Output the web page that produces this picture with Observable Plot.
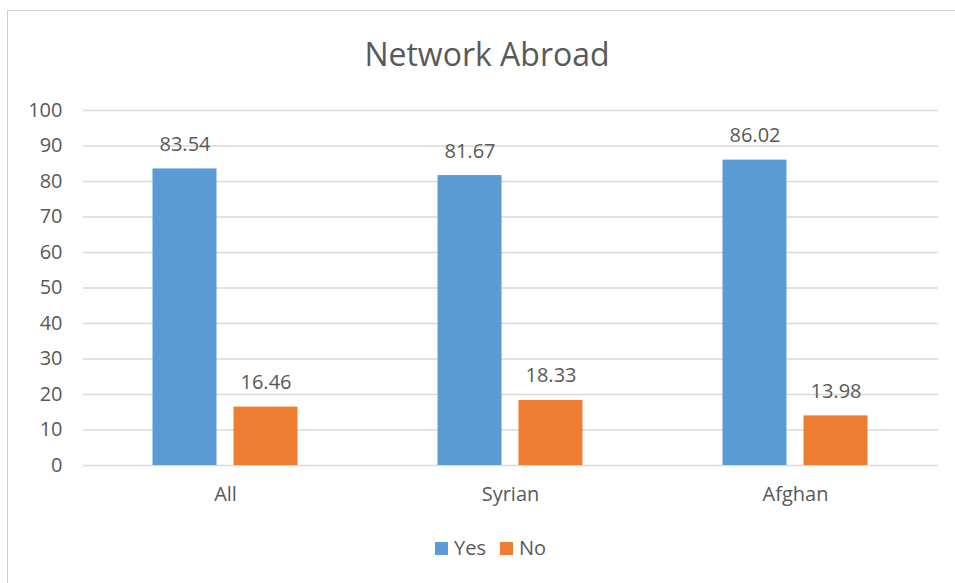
<!DOCTYPE html>
<html>
<head>
<meta charset="utf-8">
<script src="https://cdn.jsdelivr.net/npm/d3@7"></script>
<script src="https://cdn.jsdelivr.net/npm/@observablehq/plot@0.6"></script>
<style>
  html, body { margin: 0; padding: 0; background: #fff; }
  #wrap { position: relative; width: 955px; height: 583px; overflow: hidden; font-family: "Open Sans", "Noto Sans", sans-serif; color: #595959; }
  #border { position: absolute; left: 7px; top: 10px; width: 1000px; height: 1000px; border-left: 1px solid #d0d0d0; border-top: 1px solid #d0d0d0; }
  #title { position: relative; height: 95px; }
  #title span { position: absolute; left: 487px; top: 32px; transform: translateX(-50%); font-size: 32px; white-space: nowrap; color: #595959; }
  #chart svg { display: block; }
  #legend { position: relative; height: 60px; }
  .sw { position: absolute; width: 13px; height: 13px; top: 27px; }
  .lt { position: absolute; top: 20px; font-size: 20px; line-height: 26px; color: #595959; }
</style>
</head>
<body>
<div id="wrap">
  <div id="border"></div>
  <div id="title"><span>Network Abroad</span></div>
  <div id="chart"></div>
  <div id="legend"></div>
</div>
<script>
const categories = ["All", "Syrian", "Afghan"];
const yesValues = [83.54, 81.67, 86.02];
const noValues = [16.46, 18.33, 13.98];
const yTicks = [0, 10, 20, 30, 40, 50, 60, 70, 80, 90, 100];
const seriesNames = ["Yes", "No"];
const seriesColors = ["#5B9BD5", "#ED7D31"];

const data = categories.map((c, i) => ({category: c, yes: yesValues[i], no: noValues[i]}));
const fmt = d3.format(".2f");

const plot = Plot.plot({
  width: 955,
  height: 420,
  marginTop: 15,
  marginBottom: 50,
  marginLeft: 83,
  marginRight: 17,
  style: {fontFamily: "'Open Sans', 'Noto Sans', sans-serif", fontSize: "20px", color: "#595959", background: "transparent"},
  x: {domain: categories, paddingInner: 0.775, paddingOuter: 0.3875, label: null},
  y: {domain: [0, 100], label: null},
  marks: [
    Plot.ruleY(yTicks, {stroke: "#d9d9d9", strokeWidth: 1.3}),
    Plot.barY(data, {x: "category", y: "yes", dx: -40.5, fill: seriesColors[0]}),
    Plot.barY(data, {x: "category", y: "no", dx: 40.5, fill: seriesColors[1]}),
    Plot.text(data, {x: "category", y: "yes", dx: -40.5, dy: -18, text: d => fmt(d.yes), lineAnchor: "bottom", fill: "#595959", fontSize: 20}),
    Plot.text(data, {x: "category", y: "no", dx: 40.5, dy: -18, text: d => fmt(d.no), lineAnchor: "bottom", fill: "#595959", fontSize: 20}),
    Plot.axisY({ticks: yTicks, tickSize: 0, tickPadding: 21, fontSize: 20, fill: "#595959"}),
    Plot.axisX({tickSize: 0, tickPadding: 21, fontSize: 20, fill: "#595959"})
  ]
});
document.getElementById("chart").appendChild(plot);

const legend = document.getElementById("legend");
const swX = [435, 500];
const txX = [454, 519];
seriesNames.forEach((name, i) => {
  const sw = document.createElement("div");
  sw.className = "sw";
  sw.style.left = swX[i] + "px";
  sw.style.background = seriesColors[i];
  legend.appendChild(sw);
  const t = document.createElement("div");
  t.className = "lt";
  t.style.left = txX[i] + "px";
  t.textContent = name;
  legend.appendChild(t);
});
</script>
</body>
</html>
